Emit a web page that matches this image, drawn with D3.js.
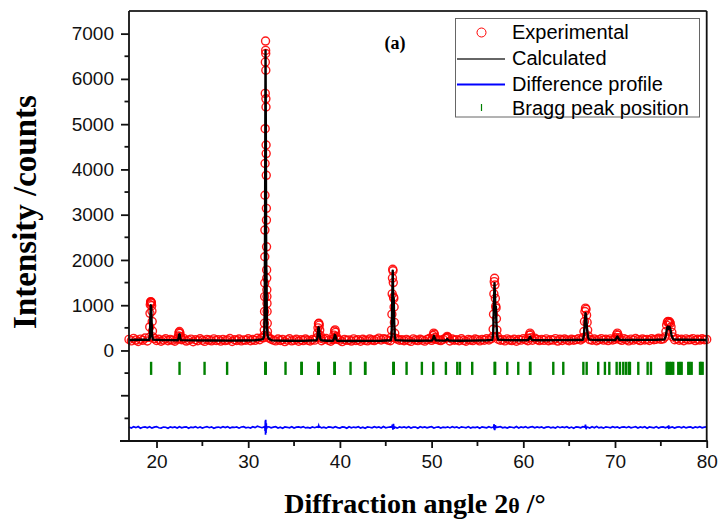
<!DOCTYPE html>
<html>
<head>
<meta charset="utf-8">
<script src="https://cdn.jsdelivr.net/npm/d3@7"></script>
<style>
  body { margin: 0; background: #fff; }
  .tick_label { font-family: Arial, "Liberation Sans", sans-serif; font-size: 19px; fill: #111; }
  .legend_text { font-family: Arial, "Liberation Sans", sans-serif; font-size: 20px; fill: #000; }
  .axis_title { font-family: "Times New Roman", "Liberation Serif", serif; font-weight: bold; fill: #000; }
</style>
</head>
<body>
<div id="chart"></div>
<script>
/*
Rietveld refinement plot (XRD) - observed points, calculated profile,
difference profile and Bragg peak markers.
*/

// observed counts on a regular 2theta grid (background part, 0.25 deg steps from 17 to 80)
var bgStart = 17, bgStep = 0.25;
var bgCounts = [
  245, 212, 268, 230, 198, 251, 226, 274, 209, 238, 190, 262, 221, 247, 205, 233, 259, 214, 241, 226,
  203, 248, 219, 236, 262, 208, 229, 251, 194, 237, 216, 259, 225, 201, 244, 230, 213, 256, 222, 239,
  207, 246, 218, 231, 263, 199, 238, 221, 252, 211, 235, 226, 258, 215, 243, 224, 270, 236, 281, 302,
  335, 276, 248, 229, 211, 253, 220, 241, 196, 234, 259, 213, 228, 247, 205, 238, 219, 254, 226, 209,
  242, 228, 256, 231, 214, 247, 263, 225, 203, 239, 218, 251, 229, 196, 244, 223, 235, 208, 257, 221,
  238, 205, 249, 226, 213, 255, 231, 219, 246, 272, 233, 260, 248, 229, 216, 243, 210, 252, 227, 238,
  214, 246, 222, 201, 257, 233, 218, 249, 228, 206, 241, 265, 224, 212, 250, 231, 219, 245, 268, 236,
  209, 252, 227, 240, 215, 258, 224, 203, 246, 231, 217, 254, 238, 211, 243, 226, 259, 231, 262, 279,
  271, 248, 225, 239, 212, 256, 231, 219, 247, 203, 242, 228, 261, 237, 214, 250, 226, 273, 241, 219,
  246, 223, 257, 214, 238, 229, 262, 208, 247, 221, 254, 233, 216, 249, 227, 240, 258, 231, 264, 283,
  268, 241, 226, 253, 214, 238, 261, 229, 247, 219, 256, 232, 248, 270, 243, 224, 259, 236, 212, 251,
  229, 263, 238, 217, 255, 231, 246, 222, 259, 236, 248, 271, 245, 257, 262, 284, 273, 251, 238, 260,
  227, 249, 215, 256, 234, 241, 262, 219, 247, 230, 258, 236, 244
];

// observed points across each peak [2theta, counts]
var obs19 = [[19.22, 290], [19.26, 520], [19.29, 820], [19.32, 1010], [19.35, 1070], [19.38, 1080], [19.41, 1050],
             [19.44, 1060], [19.47, 990], [19.50, 870], [19.53, 640], [19.56, 430], [19.60, 300]];
var obs22 = [[22.32, 260], [22.38, 320], [22.44, 390], [22.50, 420], [22.56, 380], [22.62, 310], [22.68, 255]];
var obs32 = [[31.70, 280], [31.73, 330], [31.75, 450], [31.77, 600], [31.78, 860], [31.79, 1190], [31.80, 1490],
             [31.81, 2070], [31.82, 2660], [31.83, 3430], [31.84, 4130], [31.85, 4900], [31.86, 5680], [31.87, 6370],
             [31.89, 6836], [31.90, 6630], [31.91, 6560], [31.92, 6190], [31.93, 5560], [31.94, 5380], [31.95, 4540],
             [31.96, 4350], [31.97, 3870], [31.98, 3140], [31.99, 2880], [32.00, 2290], [32.01, 1780], [32.02, 1600],
             [32.03, 1340], [32.04, 1190], [32.05, 1040], [32.06, 860], [32.08, 600], [32.10, 420], [32.13, 320]];
var obs37 = [[37.50, 280], [37.56, 380], [37.61, 500], [37.66, 590], [37.70, 600], [37.75, 560], [37.80, 450],
             [37.86, 330], [37.92, 270]];
var obs39 = [[39.28, 260], [39.35, 340], [39.42, 430], [39.47, 456], [39.53, 400], [39.60, 310], [39.68, 250]];
var obs45 = [[45.58, 290], [45.63, 450], [45.67, 800], [45.70, 1250], [45.73, 1600], [45.76, 1795], [45.79, 1760],
             [45.82, 1500], [45.85, 1180], [45.88, 1150], [45.91, 960], [45.94, 620], [45.98, 380], [46.03, 270]];
var obs50 = [[50.08, 260], [50.16, 330], [50.23, 383], [50.30, 360], [50.38, 290], [50.46, 250]];
var obs51 = [[51.62, 280], [51.70, 310], [51.78, 285]];
var obs56 = [[56.66, 300], [56.71, 470], [56.75, 800], [56.79, 1250], [56.83, 1520], [56.87, 1596], [56.91, 1450],
             [56.95, 1150], [56.99, 980], [57.03, 940], [57.07, 700], [57.12, 450], [57.18, 310]];
var obs60 = [[60.58, 270], [60.66, 340], [60.73, 383], [60.80, 350], [60.88, 280]];
var obs66 = [[66.55, 290], [66.61, 420], [66.67, 640], [66.72, 860], [66.78, 935], [66.84, 910], [66.90, 780],
             [66.96, 620], [67.02, 450], [67.09, 320]];
var obs70 = [[70.10, 280], [70.18, 350], [70.26, 383], [70.34, 340], [70.42, 280]];
var obs75 = [[75.45, 300], [75.55, 420], [75.63, 560], [75.71, 630], [75.79, 640], [75.87, 610], [75.95, 635],
             [76.03, 600], [76.11, 520], [76.20, 400], [76.30, 300]];

// calculated profile: background nodes + peak nodes [2theta, counts]
var calcBase = [[17.0, 232], [18.5, 236], [20.5, 232], [21.5, 228], [24, 224], [26, 220], [28, 218], [29.5, 220],
                [30.8, 225], [31.5, 245], [32.6, 222], [34, 215], [36, 212], [38.6, 214], [41, 210], [43, 212],
                [44.5, 215], [47, 218], [48.5, 216], [51.0, 218], [53, 216], [54.5, 218], [56, 225], [58, 230],
                [59.5, 226], [62, 226], [64, 228], [65.5, 230], [68, 232], [69.2, 230], [71.5, 232], [73, 234],
                [74.5, 238], [77.5, 236], [79, 234], [80, 233]];
var calc19 = [[19.20, 235], [19.28, 300], [19.33, 700], [19.38, 1000], [19.42, 960], [19.47, 600], [19.52, 330], [19.60, 240]];
var calc22 = [[22.30, 225], [22.40, 260], [22.47, 350], [22.52, 360], [22.58, 270], [22.68, 228]];
var calc32 = [[31.60, 255], [31.70, 290], [31.76, 420], [31.80, 900], [31.84, 2800], [31.87, 5200], [31.89, 6630],
              [31.92, 5000], [31.95, 2600], [31.97, 1800], [31.99, 1750], [32.02, 1000], [32.06, 480], [32.12, 320], [32.25, 260]];
var calc37 = [[37.45, 225], [37.55, 280], [37.62, 440], [37.67, 516], [37.72, 480], [37.78, 360], [37.88, 250], [37.98, 225]];
var calc39 = [[39.25, 215], [39.37, 270], [39.45, 346], [39.52, 320], [39.62, 240], [39.72, 212]];
var calc45 = [[45.55, 225], [45.64, 330], [45.70, 1000], [45.76, 1765], [45.80, 1300], [45.84, 1050], [45.87, 1155],
              [45.92, 620], [45.98, 310], [46.08, 228]];
var calc50 = [[50.05, 220], [50.17, 265], [50.25, 324], [50.33, 280], [50.45, 225]];
var calc51 = [[51.55, 218], [51.70, 255], [51.85, 220]];
var calc56 = [[56.62, 235], [56.72, 380], [56.79, 1000], [56.86, 1486], [56.91, 1200], [56.96, 900], [57.01, 970],
              [57.07, 600], [57.15, 320], [57.25, 240]];
var calc60 = [[60.52, 228], [60.65, 270], [60.74, 305], [60.84, 262], [60.96, 228]];
var calc66 = [[66.50, 235], [66.62, 350], [66.70, 600], [66.78, 824], [66.84, 780], [66.90, 600], [66.98, 420],
              [67.08, 280], [67.20, 240]];
var calc70 = [[70.05, 232], [70.17, 280], [70.26, 310], [70.36, 275], [70.48, 235]];
var calc75 = [[75.40, 245], [75.55, 330], [75.68, 500], [75.76, 530], [75.84, 480], [75.94, 520], [76.04, 470],
              [76.16, 340], [76.30, 260], [76.45, 240]];

// difference (obs - calc) on the same 0.25 deg grid, plotted with an offset
var diffOffset = -1700;
var diffResidual = [
  8, -12, 15, -5, 20, -18, 3, 11, -9, 14, -16, 6, 18, -7, -13, 9, 4, -20, 12, -3,
  10, -14, 17, -8, 5, 13, -19, 7, -2, 16, -11, 9, -15, 4, 19, -6, 12, -17, 2, 8,
  -9, 14, -4, 18, -13, 6, -1, 11, -16, 9, 15, -8, 3, -12, 17, -5, 25, 10, -6, 12,
  -20, 14, -9, 7, 16, -12, 5, -17, 10, 3, -8, 15, -14, 6, 11, -4, 18, -10, 2, -15,
  9, -6, 13, 20, -11, 4, -16, 12, 7, -9, 17, -3, -13, 10, 5, -18, 14, -7, 8, -2,
  15, -12, 6, -17, 11, 3, -9, 16, -5, 12, -14, 20, -8, 4, 13, -11, 7, -16, 10, -3,
  12, -7, 17, -13, 5, 9, -18, 14, -4, 10, -10, 6, 16, -12, 3, 11, -15, 8, -6, 13,
  -11, 15, -3, 9, -16, 12, 4, -8, 18, -14, 7, -5, 11, -17, 13, 2, -9, 15, -6, 10,
  -13, 8, 16, -10, 5, -15, 12, 3, -7, 19, -12, 9, -4, 14, -11, 6, 17, -8, 11, -2,
  10, -16, 7, 13, -9, 4, -14, 18, -6, 11, -3, 15, -12, 8, -17, 12, 5, -10, 16, -4,
  9, -13, 14, -7, 20, -11, 6, -16, 12, 3, -9, 17, -5, 10, -14, 8, 13, -6, 15, -10,
  4, 16, -12, 9, -5, 14, -17, 11, 2, -8, 18, -13, 7, 12, -9, 15, -4, 10, -15, 6,
  13, -8, 17, -11, 5, 12, -14, 9, -3, 16, -10, 7, 11
];
// residual spikes at the strong reflections [2theta, counts]
var diff32 = [[31.82, 20], [31.84, -80], [31.87, 150], [31.89, -160], [31.91, 170], [31.94, -120], [31.97, 90], [32.00, -40], [32.03, 10]];
var diff37 = [[37.62, 5], [37.68, 40], [37.74, -10]];
var diff45 = [[45.68, 10], [45.72, 60], [45.78, -50], [45.84, 80], [45.90, -30], [45.95, 5]];
var diff56 = [[56.76, 5], [56.82, 70], [56.88, -60], [56.95, 50], [57.00, 0]];
var diff66 = [[66.72, 5], [66.78, 60], [66.85, -40], [66.90, 5]];
var diff75 = [[75.80, 0], [75.85, 45], [75.92, -10]];

// Bragg reflection positions (2theta)
var braggPos = [19.41, 22.51, 25.24, 27.70, 31.86, 31.92, 34.07, 35.80, 35.84, 37.64, 37.70, 39.40, 39.44, 41.16,
  42.74, 42.78, 45.82, 45.88, 47.27, 48.94, 50.18, 51.56, 52.80, 53.09, 54.43, 56.87, 56.93, 58.25, 59.45,
  60.73, 60.77, 63.27, 64.36, 66.55, 66.91, 68.17, 68.90, 69.38, 70.18, 70.54, 70.90, 71.20, 71.50, 71.63,
  72.54, 73.56, 73.92, 75.63, 75.80, 75.99, 76.15, 76.35, 76.90, 77.10, 77.27, 77.99, 78.15, 78.36,
  79.27, 79.40, 79.56];

// axis ticks
var xTicks = [20, 30, 40, 50, 60, 70, 80];
var xMinorTicks = [25, 35, 45, 55, 65, 75];
var yTicks = [0, 1000, 2000, 3000, 4000, 5000, 6000, 7000];
var yUnlabeled = [-1000];
var yMinorTicks = [-1500, -500, 500, 1500, 2500, 3500, 4500, 5500, 6500];

var legendItems = ['Experimental', 'Calculated', 'Difference profile', 'Bragg peak position'];

function rietveld_plot(landmark) {
    const W = 721, H = 521;
    const left = 129, right = 706.7, top = 11, bottom = 441;

    var xScale = d3.scaleLinear().domain([17, 80]).range([left, right]);
    var yScale = d3.scaleLinear().domain([-2000, 7500]).range([bottom, top]);

    var svg = d3.select('#' + landmark).append('svg')
        .attr('width', W)
        .attr('height', H);

    // build point lists
    var obsPeaks = [obs19, obs22, obs32, obs37, obs39, obs45, obs50, obs51, obs56, obs60, obs66, obs70, obs75];
    var calcPeaks = [calc19, calc22, calc32, calc37, calc39, calc45, calc50, calc51, calc56, calc60, calc66, calc70, calc75];
    var diffPeaks = [diff32, diff37, diff45, diff56, diff66, diff75];

    function inside(sets, a) {
        return sets.some(function (p) { return a >= p[0][0] && a <= p[p.length - 1][0]; });
    }

    var obsPoints = [];
    bgCounts.forEach(function (v, i) {
        var a = bgStart + i * bgStep;
        if (!inside(obsPeaks, a)) obsPoints.push([a, v]);
    });
    obsPeaks.forEach(function (p) { obsPoints = obsPoints.concat(p); });

    var calcPoints = calcBase.filter(function (d) { return !inside(calcPeaks, d[0]); });
    calcPeaks.forEach(function (p) { calcPoints = calcPoints.concat(p); });
    calcPoints.sort(function (a, b) { return a[0] - b[0]; });

    var diffPoints = [];
    diffResidual.forEach(function (v, i) {
        var a = bgStart + i * bgStep;
        if (!inside(diffPeaks, a)) diffPoints.push([a, v]);
    });
    diffPeaks.forEach(function (p) { diffPoints = diffPoints.concat(p); });
    diffPoints.sort(function (a, b) { return a[0] - b[0]; });

    // observed - open red circles
    svg.append('g').selectAll('circle')
        .data(obsPoints).enter()
        .append('circle')
        .attr('cx', function (d) { return xScale(d[0]); })
        .attr('cy', function (d) { return yScale(d[1]); })
        .attr('r', 4)
        .attr('fill', 'none')
        .attr('stroke', '#ff0000')
        .attr('stroke-opacity', 0.9)
        .attr('stroke-width', 1.4);

    // calculated profile
    var line = d3.line()
        .x(function (d) { return xScale(d[0]); })
        .y(function (d) { return yScale(d[1]); });

    svg.append('path')
        .datum(calcPoints)
        .attr('d', line)
        .attr('fill', 'none')
        .attr('stroke', '#000')
        .attr('stroke-width', 2.4)
        .attr('stroke-linejoin', 'round');

    // Bragg markers
    svg.append('g').selectAll('line')
        .data(braggPos).enter()
        .append('line')
        .attr('x1', function (d) { return xScale(d); })
        .attr('x2', function (d) { return xScale(d); })
        .attr('y1', yScale(-250))
        .attr('y2', yScale(-540))
        .attr('stroke', '#008000')
        .attr('stroke-width', 2.4);

    // difference profile
    var diffLine = d3.line()
        .x(function (d) { return xScale(d[0]); })
        .y(function (d) { return yScale(d[1] + diffOffset); });

    svg.append('path')
        .datum(diffPoints)
        .attr('d', diffLine)
        .attr('fill', 'none')
        .attr('stroke', '#0000ff')
        .attr('stroke-width', 1.7);

    // frame
    svg.append('line').attr('x1', left).attr('x2', right).attr('y1', top).attr('y2', top)
        .attr('stroke', '#333').attr('stroke-width', 1.8);
    svg.append('line').attr('x1', right).attr('x2', right).attr('y1', top).attr('y2', bottom)
        .attr('stroke', '#111').attr('stroke-width', 1.8);

    // X axis
    var xAxis = d3.axisBottom(xScale).tickValues(xTicks).tickSize(7).tickPadding(7)
        .tickFormat(d3.format('d'));
    var gx = svg.append('g')
        .attr('transform', 'translate(0,' + bottom + ')')
        .call(xAxis);
    gx.select('.domain').remove();
    gx.selectAll('.tick line').attr('stroke', '#111').attr('stroke-width', 1.8);
    gx.selectAll('.tick text').attr('class', 'tick_label').attr('font-size', null).attr('font-family', null);
    svg.append('line').attr('x1', 120).attr('x2', right + 1).attr('y1', bottom).attr('y2', bottom)
        .attr('stroke', '#111').attr('stroke-width', 1.8);
    svg.append('g').selectAll('line')
        .data(xMinorTicks).enter()
        .append('line')
        .attr('x1', function (d) { return xScale(d); })
        .attr('x2', function (d) { return xScale(d); })
        .attr('y1', bottom).attr('y2', bottom + 5)
        .attr('stroke', '#111').attr('stroke-width', 1.8);

    // Y axis
    var yAxis = d3.axisLeft(yScale).tickValues(yTicks).tickSize(8).tickPadding(7)
        .tickFormat(d3.format('d'));
    var gy = svg.append('g')
        .attr('transform', 'translate(' + left + ',0)')
        .call(yAxis);
    gy.select('.domain').remove();
    gy.selectAll('.tick line').attr('stroke', '#111').attr('stroke-width', 1.8);
    gy.selectAll('.tick text').attr('class', 'tick_label').attr('font-size', null).attr('font-family', null);
    svg.append('line').attr('x1', left).attr('x2', left).attr('y1', top).attr('y2', bottom)
        .attr('stroke', '#111').attr('stroke-width', 1.8);
    svg.append('g').selectAll('line')
        .data(yUnlabeled.map(function (v) { return [v, 8]; })
            .concat(yMinorTicks.map(function (v) { return [v, 4.5]; })))
        .enter()
        .append('line')
        .attr('x1', function (d) { return left - d[1]; })
        .attr('x2', left)
        .attr('y1', function (d) { return yScale(d[0]); })
        .attr('y2', function (d) { return yScale(d[0]); })
        .attr('stroke', '#111').attr('stroke-width', 1.8);

    // axis titles
    var xt = svg.append('text')
        .attr('class', 'axis_title')
        .attr('x', 415)
        .attr('y', 513)
        .attr('text-anchor', 'middle')
        .attr('font-size', 28);
    xt.append('tspan').text('Diffraction angle 2');
    xt.append('tspan').attr('font-size', 22).text('θ');
    xt.append('tspan').text(' /°');

    svg.append('text')
        .attr('class', 'axis_title')
        .attr('transform', 'translate(36,212) rotate(-90)')
        .attr('text-anchor', 'middle')
        .attr('font-size', 33)
        .text('Intensity /counts');

    svg.append('text')
        .attr('class', 'axis_title')
        .attr('x', 395)
        .attr('y', 49)
        .attr('text-anchor', 'middle')
        .attr('font-size', 18)
        .text('(a)');

    // legend
    var lg = svg.append('g');
    lg.append('rect')
        .attr('x', 455.5).attr('y', 18.5)
        .attr('width', 244).attr('height', 98.5)
        .attr('fill', '#fff')
        .attr('stroke', '#666')
        .attr('stroke-width', 1);
    var rowY = [38.5, 65, 91, 115];
    lg.append('circle')
        .attr('cx', 481.5).attr('cy', 32.5).attr('r', 4.5)
        .attr('fill', 'none').attr('stroke', '#ff0000').attr('stroke-width', 1);
    lg.append('line')
        .attr('x1', 457).attr('x2', 505).attr('y1', 59).attr('y2', 59)
        .attr('stroke', '#333').attr('stroke-width', 1.5);
    lg.append('line')
        .attr('x1', 457).attr('x2', 505).attr('y1', 84.5).attr('y2', 84.5)
        .attr('stroke', '#0000ff').attr('stroke-width', 2);
    lg.append('line')
        .attr('x1', 481.5).attr('x2', 481.5).attr('y1', 104).attr('y2', 111)
        .attr('stroke', '#008000').attr('stroke-width', 1.2);
    lg.selectAll('.legend_text')
        .data(legendItems).enter()
        .append('text')
        .attr('class', 'legend_text')
        .attr('x', 512)
        .attr('y', function (d, i) { return rowY[i]; })
        .text(function (d) { return d; });

    return svg;
}

rietveld_plot('chart');
</script>
</body>
</html>
